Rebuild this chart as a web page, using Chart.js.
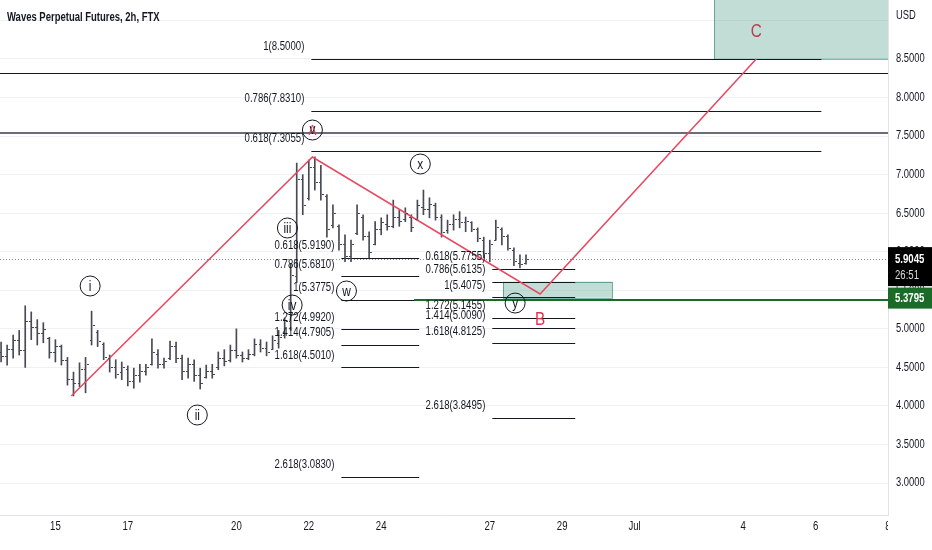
<!DOCTYPE html>
<html>
<head>
<meta charset="utf-8">
<script src="https://cdn.jsdelivr.net/npm/chart.js@4.4.0/dist/chart.umd.min.js"></script>
<style>
  html, body { margin: 0; padding: 0; background: #fff; }
  #wrap { width: 932px; height: 550px; }
</style>
</head>
<body>
<div id="wrap"><canvas id="chart" width="932" height="550"></canvas></div>
<script>
const FONT = "'Liberation Sans', Arial, sans-serif";

// 4h bars, June 13.5 .. June 28 (x is June day number, Jul 1 = 31)
const barStart = 13.5;
const barStep = 1 / 6;
const highs = [4.83,4.79,4.92,4.98,5.30,5.22,5.12,5.08,4.89,4.86,
  4.79,4.63,4.44,4.56,4.63,5.23,4.98,4.82,4.66,4.60,
  4.57,4.52,4.49,4.54,4.54,4.87,4.73,4.62,4.84,4.83,
  4.66,4.62,4.60,4.49,4.53,4.54,4.70,4.73,4.79,5.00,
  4.70,4.73,4.87,4.86,4.83,4.91,4.98,5.14,5.85,7.15,
  7.00,7.19,7.23,7.12,6.74,6.61,6.35,6.22,6.15,6.61,
  6.48,6.26,6.39,6.44,6.48,6.67,6.54,6.57,6.48,6.67,
  6.80,6.70,6.63,6.48,6.41,6.48,6.52,6.45,6.39,6.31,
  6.19,6.15,6.41,6.31,6.22,6.05,5.96,5.96];
const lows = [4.57,4.53,4.62,4.66,4.50,4.86,4.79,4.82,4.62,4.57,
  4.53,4.27,4.13,4.25,4.17,4.79,4.77,4.60,4.44,4.36,
  4.34,4.26,4.23,4.31,4.40,4.53,4.49,4.49,4.60,4.56,
  4.34,4.36,4.32,4.22,4.36,4.36,4.47,4.52,4.57,4.62,
  4.57,4.60,4.65,4.70,4.65,4.73,4.75,4.88,4.98,5.60,
  6.48,6.67,6.80,6.67,6.19,6.31,6.02,5.87,5.87,6.22,
  6.15,5.92,6.09,6.22,6.28,6.31,6.33,6.39,6.26,6.41,
  6.48,6.44,6.41,6.19,6.24,6.28,6.31,6.26,6.26,6.13,
  5.92,5.87,6.15,6.09,6.02,5.82,5.79,5.84];
const opens = [4.70,4.65,4.74,4.85,4.72,5.10,5.02,4.95,4.88,4.70,
  4.78,4.60,4.35,4.30,4.48,4.85,4.96,4.80,4.62,4.50,
  4.44,4.48,4.32,4.40,4.45,4.55,4.68,4.55,4.62,4.78,
  4.62,4.45,4.55,4.40,4.38,4.45,4.50,4.62,4.60,4.72,
  4.66,4.62,4.68,4.80,4.75,4.74,4.82,4.92,5.10,5.68,
  6.95,6.70,7.10,6.90,6.72,6.35,6.33,6.10,5.95,6.24,
  6.45,6.20,6.10,6.30,6.36,6.34,6.45,6.42,6.45,6.42,
  6.58,6.55,6.60,6.45,6.28,6.36,6.42,6.38,6.38,6.30,
  6.15,5.98,6.15,6.30,6.20,6.02,5.86,5.85];
const closes = [4.65,4.74,4.85,4.72,5.10,5.02,4.95,5.00,4.70,4.78,
  4.60,4.35,4.30,4.48,4.55,5.05,4.84,4.64,4.50,4.42,
  4.50,4.32,4.40,4.45,4.50,4.70,4.55,4.58,4.78,4.62,
  4.45,4.55,4.40,4.30,4.45,4.42,4.62,4.58,4.72,4.66,
  4.62,4.68,4.80,4.75,4.70,4.85,4.90,5.10,5.70,6.95,
  6.60,7.10,6.90,6.75,6.30,6.50,6.10,5.95,6.10,6.50,
  6.20,6.00,6.30,6.38,6.34,6.45,6.40,6.50,6.32,6.60,
  6.55,6.62,6.45,6.25,6.36,6.42,6.38,6.40,6.30,6.18,
  5.98,6.10,6.32,6.20,6.05,5.88,5.84,5.9045];
const barTimes = highs.map((_, i) => barStart + i * barStep);

const lastPrice = 5.9045;
const lastCountdown = '26:51';
const levelPrice = 5.3795;
const levelFrom = 24.91;

// axis ticks
const priceTicks = [3, 3.5, 4, 4.5, 5, 5.5, 6, 6.5, 7, 7.5, 8, 8.5, 9];
const dayTicks = [15, 17, 20, 22, 24, 27, 29, 31, 34, 36, 38];
const dayTickLabels = ['15', '17', '20', '22', '24', '27', '29', 'Jul', '4', '6', '8'];

// projected path
const zigzagTimes = [15.44, 22.10, 28.39, 34.36];
const zigzagPrices = [4.129, 7.229, 5.452, 8.5];

// horizontal lines across the whole chart
const fullLines = [8.318, 7.54];

// fib extension groups
const fibTopRatios = ['1', '0.786', '0.618'];
const fibTopValues = [8.5, 7.831, 7.3055];
const fibTopSpan = [22.07, 36.16];
const fibMidRatios = ['0.618', '0.786', '1', '1.272', '1.414', '1.618', '2.618'];
const fibMidValues = [5.919, 5.681, 5.3775, 4.992, 4.7905, 4.501, 3.083];
const fibMidSpan = [22.90, 25.05];
const fibRightRatios = ['0.618', '0.786', '1', '1.272', '1.414', '1.618', '2.618'];
const fibRightValues = [5.7755, 5.6135, 5.4075, 5.1455, 5.009, 4.8125, 3.8495];
const fibRightSpan = [27.07, 29.36];

// target zones [t0, t1, pLow, pHigh]
const zoneB = [27.37, 30.38, 5.4075, 5.6135];
const zoneC = [33.20, 40, 8.5, 9.6];

// wave labels
const waveLabels = ['i', 'ii', 'iii', 'iv', 'w', 'x', 'y'];
const waveTimes = [15.96, 18.92, 21.41, 21.54, 23.04, 25.08, 27.70];
const wavePrices = [5.556, 3.883, 6.308, 5.309, 5.491, 7.138, 5.335];
const peakLabel = { t: 22.10, p: 7.579 };
const letterLabels = ['B', 'C'];
const letterTimes = [28.39, 34.36];
const letterPrices = [5.115, 8.85];

// narrow text: the chart's lettering is condensed
function cText(ctx, txt, x, y, align, sx) {
  ctx.save();
  ctx.translate(x, y);
  ctx.scale(sx, 1);
  ctx.textAlign = align;
  ctx.fillText(txt, 0, 0);
  ctx.restore();
}

const overlay = {
  id: 'overlay',
  beforeDatasetsDraw(chart) {
    const { ctx, chartArea: a, scales: { x, y } } = chart;
    const X = v => x.getPixelForValue(v), Y = v => y.getPixelForValue(v);
    ctx.save();
    ctx.beginPath();
    ctx.rect(a.left, a.top, a.right - a.left, a.bottom - a.top);
    ctx.clip();

    // zones
    [zoneB, zoneC].forEach(z => {
      const x0 = X(z[0]), x1 = X(z[1]), y0 = Y(z[3]), y1 = Y(z[2]);
      ctx.fillStyle = 'rgba(120,180,165,0.45)';
      ctx.fillRect(x0, y0, x1 - x0, y1 - y0);
      ctx.strokeStyle = 'rgba(70,150,130,0.8)';
      ctx.lineWidth = 1;
      ctx.strokeRect(Math.round(x0) + 0.5, Math.round(y0) + 0.5, x1 - x0, y1 - y0);
    });

    // full width lines
    ctx.strokeStyle = '#131722';
    ctx.lineWidth = 1;
    let yy = Math.round(Y(fullLines[0])) + 0.5;
    ctx.beginPath(); ctx.moveTo(a.left, yy); ctx.lineTo(a.right, yy); ctx.stroke();
    ctx.strokeStyle = '#6a6d78';
    ctx.lineWidth = 2;
    yy = Math.round(Y(fullLines[1]));
    ctx.beginPath(); ctx.moveTo(a.left, yy); ctx.lineTo(a.right, yy); ctx.stroke();

    // fib segments
    ctx.strokeStyle = '#131722';
    ctx.lineWidth = 1;
    [[fibTopValues, fibTopSpan], [fibMidValues, fibMidSpan], [fibRightValues, fibRightSpan]].forEach(([vals, span]) => {
      vals.forEach(v => {
        const py = Math.round(Y(v)) + 0.5;
        ctx.beginPath(); ctx.moveTo(X(span[0]), py); ctx.lineTo(X(span[1]), py); ctx.stroke();
      });
    });

    // last price dotted line
    ctx.strokeStyle = '#8a8d96';
    ctx.setLineDash([1, 2]);
    yy = Math.round(Y(lastPrice)) + 0.5;
    ctx.beginPath(); ctx.moveTo(a.left, yy); ctx.lineTo(a.right, yy); ctx.stroke();
    ctx.setLineDash([]);

    // green horizontal level
    ctx.strokeStyle = '#1b6b28';
    ctx.lineWidth = 2;
    yy = Math.round(Y(levelPrice));
    ctx.beginPath(); ctx.moveTo(X(levelFrom), yy); ctx.lineTo(a.right, yy); ctx.stroke();
    ctx.restore();
  },
  afterDatasetsDraw(chart) {
    const { ctx, scales: { x, y } } = chart;
    const X = v => x.getPixelForValue(v), Y = v => y.getPixelForValue(v);
    ctx.save();

    // open / close ticks of the OHLC bars
    ctx.strokeStyle = '#474a55';
    ctx.lineWidth = 1;
    barTimes.forEach((t, i) => {
      const px = Math.round(X(t));
      const yo = Math.round(Y(opens[i])) + 0.5, yc = Math.round(Y(closes[i])) + 0.5;
      ctx.beginPath();
      ctx.moveTo(px - 2, yo); ctx.lineTo(px, yo);
      ctx.moveTo(px + 1, yc); ctx.lineTo(px + 3, yc);
      ctx.stroke();
    });

    // fib labels
    ctx.fillStyle = '#131722';
    ctx.font = '12px ' + FONT;
    ctx.textBaseline = 'middle';
    [[fibTopRatios, fibTopValues, fibTopSpan], [fibMidRatios, fibMidValues, fibMidSpan],
     [fibRightRatios, fibRightValues, fibRightSpan]].forEach(([rs, vals, span]) => {
      vals.forEach((v, i) => {
        cText(ctx, rs[i] + '(' + v.toFixed(4) + ')', X(span[0]) - 7, Y(v) - 12, 'right', 0.8);
      });
    });

    // circled wave labels
    const circle = (t, p) => {
      ctx.beginPath();
      ctx.arc(X(t), Y(p), 10, 0, Math.PI * 2);
      ctx.strokeStyle = '#131722';
      ctx.lineWidth = 1;
      ctx.stroke();
    };
    ctx.font = '14px ' + FONT;
    waveLabels.forEach((lab, i) => {
      circle(waveTimes[i], wavePrices[i]);
      ctx.fillStyle = '#131722';
      cText(ctx, lab, X(waveTimes[i]), Y(wavePrices[i]) + 1, 'center', 0.85);
    });
    circle(peakLabel.t, peakLabel.p);
    ctx.fillStyle = '#131722';
    cText(ctx, 'v', X(peakLabel.t), Y(peakLabel.p), 'center', 0.85);
    ctx.fillStyle = '#e53950';
    cText(ctx, 'A', X(peakLabel.t), Y(peakLabel.p) + 1, 'center', 0.85);

    // B and C
    ctx.font = '18px ' + FONT;
    ctx.fillStyle = '#e0304a';
    cText(ctx, letterLabels[0], X(letterTimes[0]), Y(letterPrices[0]), 'center', 0.85);
    ctx.fillStyle = '#b8404e';
    cText(ctx, letterLabels[1], X(letterTimes[1]), Y(letterPrices[1]), 'center', 0.85);
    ctx.restore();
  },
  afterDraw(chart) {
    const { ctx, chartArea: a, scales: { x, y } } = chart;
    ctx.save();
    ctx.textBaseline = 'middle';
    ctx.fillStyle = '#131722';

    // axis labels from the scales' ticks
    ctx.font = '12px ' + FONT;
    y.ticks.forEach(t => {
      if (t.value >= 9) return;
      cText(ctx, t.value.toFixed(4), a.right + 8, y.getPixelForValue(t.value), 'left', 0.78);
    });
    ctx.save();
    ctx.beginPath();
    ctx.rect(0, a.bottom, a.right, 40);
    ctx.clip();
    x.ticks.forEach(t => {
      cText(ctx, dayTickLabels[dayTicks.indexOf(t.value)], x.getPixelForValue(t.value), a.bottom + 12, 'center', 0.8);
    });
    ctx.restore();

    ctx.font = 'bold 13px ' + FONT;
    cText(ctx, 'Waves Perpetual Futures, 2h, FTX', 7, 17, 'left', 0.73);
    ctx.font = '12px ' + FONT;
    cText(ctx, 'USD', a.right + 8, 16, 'left', 0.78);

    // price tags
    const py = y.getPixelForValue(lastPrice);
    ctx.fillStyle = '#000';
    ctx.fillRect(a.right, py - 12, 44, 39);
    ctx.fillStyle = '#fff';
    ctx.font = 'bold 12px ' + FONT;
    cText(ctx, lastPrice.toFixed(4), a.right + 7, py + 1, 'left', 0.8);
    ctx.font = '12px ' + FONT;
    ctx.fillStyle = '#dcdcdc';
    cText(ctx, lastCountdown, a.right + 7, py + 17, 'left', 0.8);
    const gy = y.getPixelForValue(levelPrice);
    ctx.fillStyle = '#1b6b28';
    ctx.fillRect(a.right, gy - 12, 44, 21);
    ctx.fillStyle = '#fff';
    ctx.font = 'bold 12px ' + FONT;
    cText(ctx, levelPrice.toFixed(4), a.right + 7, gy - 1, 'left', 0.8);
    ctx.restore();
  }
};

new Chart(document.getElementById('chart'), {
  type: 'bar',
  data: {
    datasets: [
      {
        type: 'line',
        data: zigzagTimes.map((t, i) => ({ x: t, y: zigzagPrices[i] })),
        borderColor: '#e8475f',
        borderWidth: 1.5,
        pointRadius: 0,
        tension: 0,
        order: 0
      },
      {
        type: 'bar',
        data: barTimes.map((t, i) => ({ x: t, y: [lows[i], highs[i]] })),
        backgroundColor: '#474a55',
        barThickness: 1,
        order: 1
      }
    ]
  },
  options: {
    responsive: false,
    animation: false,
    layout: { padding: 0 },
    plugins: { legend: { display: false }, tooltip: { enabled: false } },
    scales: {
      x: {
        type: 'linear',
        min: 13.47,
        max: 38,
        offset: false,
        grid: { display: false, drawTicks: false },
        border: { display: true, color: '#e0e3eb' },
        afterBuildTicks: s => { s.ticks = dayTicks.map(v => ({ value: v })); },
        afterFit: s => { s.height = 35; s.paddingLeft = 0; s.paddingRight = 0; },
        ticks: { display: false, autoSkip: false, maxRotation: 0 }
      },
      y: {
        type: 'linear',
        position: 'right',
        min: 2.586,
        max: 9.265,
        grid: { color: '#eff1f5', drawTicks: false },
        border: { display: true, color: '#e0e3eb' },
        afterBuildTicks: s => { s.ticks = priceTicks.map(v => ({ value: v })); },
        afterFit: s => { s.width = 44; s.paddingTop = 0; s.paddingBottom = 0; },
        ticks: { display: false }
      }
    }
  },
  plugins: [overlay]
});
</script>
</body>
</html>
